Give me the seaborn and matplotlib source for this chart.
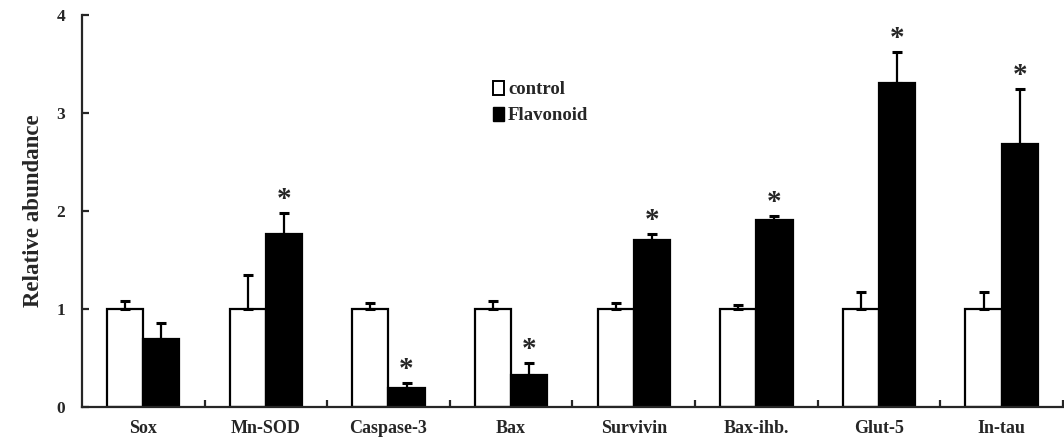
import pandas as pd
import numpy as np
import matplotlib
matplotlib.use("Agg")
import matplotlib.pyplot as plt
import seaborn as sns
from matplotlib.patches import Patch
from matplotlib.container import BarContainer

# Data
genes = ["Sox", "Mn-SOD", "Caspase-3", "Bax", "Survivin", "Bax-ihb.", "Glut-5", "In-tau"]
control_mean = [1.0, 1.0, 1.0, 1.0, 1.0, 1.0, 1.0, 1.0]
control_err = [0.08, 0.35, 0.06, 0.08, 0.06, 0.04, 0.17, 0.17]
flavonoid_mean = [0.69, 1.77, 0.20, 0.33, 1.71, 1.91, 3.31, 2.68]
flavonoid_err = [0.17, 0.21, 0.05, 0.12, 0.06, 0.04, 0.31, 0.57]
significant = [False, True, True, True, True, True, True, True]

df = pd.DataFrame({
    "Gene": genes * 2,
    "Group": ["control"] * len(genes) + ["Flavonoid"] * len(genes),
    "Mean": control_mean + flavonoid_mean,
    "Err": control_err + flavonoid_err,
})

sns.set_style("ticks")
plt.rcParams["font.family"] = ["Liberation Serif", "DejaVu Serif"]
plt.rcParams["font.weight"] = "bold"

fig = plt.figure(figsize=(10.64, 4.43), dpi=100)
ax = fig.add_axes([0.077, 0.081, 0.922, 0.885])

sns.barplot(data=df, x="Gene", y="Mean", hue="Group",
            palette={"control": "white", "Flavonoid": "black"},
            edgecolor="black", linewidth=1.6, width=0.59,
            errorbar=None, legend=False, ax=ax)

# upward-only error bars and significance stars
errs = [control_err, flavonoid_err]
bar_containers = [c for c in ax.containers if isinstance(c, BarContainer)]
for k, cont in enumerate(bar_containers):
    for i, bar in enumerate(cont.patches):
        xc = bar.get_x() + bar.get_width() / 2
        h = bar.get_height()
        ax.errorbar(xc, h, yerr=[[0], [errs[k][i]]], fmt="none",
                    ecolor="black", elinewidth=1.6, capsize=3.5, capthick=2.2)
        if k == 1 and significant[i]:
            ax.text(xc, h + errs[k][i] + 0.0, "*", ha="center", va="bottom",
                    fontsize=21, fontweight="bold")

ax.set_ylim(0, 4)
ax.set_xlim(-0.5, len(genes) - 0.5)
ax.set_yticks([0, 1, 2, 3, 4])
ax.set_xticks(np.arange(len(genes)))
ax.set_xticklabels(genes, fontsize=13, fontweight="bold")
ax.set_xticks(np.arange(len(genes)) + 0.5, minor=True)
ax.tick_params(axis="x", which="major", length=0, pad=9)
ax.tick_params(axis="x", which="minor", direction="in", length=5, width=1.6)
ax.tick_params(axis="y", direction="in", length=5, width=1.6, labelsize=12.5, pad=12)
for lab in ax.get_yticklabels():
    lab.set_fontweight("bold")
ax.set_xlabel("")
ax.set_ylabel("Relative abundance", fontsize=16.5, fontweight="bold", labelpad=9)
sns.despine(ax=ax)
ax.spines["left"].set_linewidth(1.6)
ax.spines["bottom"].set_linewidth(1.6)

handles = [Patch(facecolor="white", edgecolor="black", linewidth=1.4, label="control"),
           Patch(facecolor="black", edgecolor="black", label="Flavonoid")]
ax.legend(handles=handles, loc="upper left", bbox_to_anchor=(0.402, 0.875),
          frameon=False, handlelength=0.6, handleheight=0.75, handletextpad=0.2,
          labelspacing=0.45, prop={"weight": "bold", "size": 13.5})

fig.savefig("out.png", dpi=100)
